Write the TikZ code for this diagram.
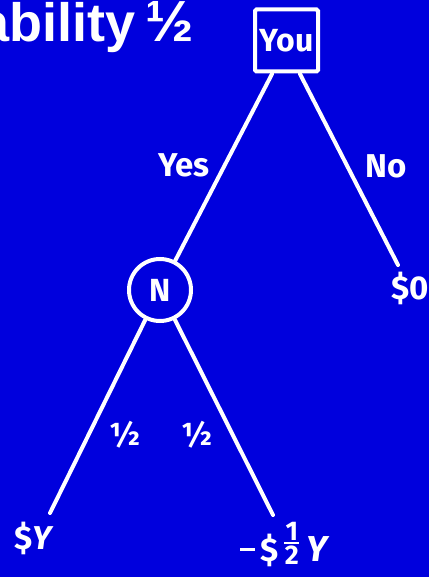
\documentclass[tikz,border=0pt]{standalone}
\usepackage{fontspec}
\setmainfont{Fira Sans}
\newfontfamily\titlefont{Liberation Sans}
\definecolor{bgblue}{RGB}{0,0,221}
\tikzset{
  lbl/.style={text=white, font=\bfseries\fontsize{33}{36}\selectfont, inner sep=0pt},
  halflbl/.style={text=white, font=\bfseries\fontsize{32}{34}\selectfont, inner sep=0pt},
  edge/.style={draw=white, line width=4pt, line cap=round},
  decbox/.style={draw=white, line width=4pt, rounded corners=1.5pt, minimum width=63pt, minimum height=62pt, inner sep=0pt, text=white, font=\bfseries\fontsize{32}{36}\selectfont},
  chance/.style={draw=white, circle, line width=4pt, minimum size=62pt, inner sep=0pt, text=white, font=\bfseries\fontsize{32}{36}\selectfont}
}
\newcommand\halfstack{\raisebox{9pt}{\fontsize{27}{27}\selectfont\begin{tabular}{@{}c@{}}\raisebox{-2pt}{1}\\[-21pt]\rule{15pt}{2pt}\\[-7pt]2\end{tabular}}}
\newcommand\longminus{\rule[0.3em]{15pt}{3.2pt}}
\begin{document}
\begin{tikzpicture}[x=1pt,y=-1pt]
\fill[bgblue] (0,0) rectangle (429,577);
\useasboundingbox (0,0) rectangle (429,577);
\node[anchor=base west, text=white, inner sep=0pt, font=\titlefont\bfseries\fontsize{54}{60}\selectfont] (title) at (-21,42) {ability\hspace{10pt}{\fontsize{58}{62}\selectfont ½}};
\node[decbox] (you) at (286.5,40.5) {You};
\node[chance] (n) at (160,290) {N};
\coordinate (ysl) at (272,74);
\coordinate (ysr) at (300,74);
\coordinate (zero) at (398,265);
\coordinate (ly) at (50,513);
\coordinate (ry) at (273,515);
\draw[edge] (ysl) -- (n);
\draw[edge] (ysr) -- (zero);
\draw[edge] (n) -- (ly);
\draw[edge] (n) -- (ry);
\node[lbl] (yes) at (184,165) {Yes};
\node[lbl] (no) at (386,166) {No};
\node[lbl, anchor=west] (z) at (391,288) {\$0};
\node[halflbl] (h1) at (125,435) {½};
\node[halflbl] (h2) at (197,435) {½};
\node[lbl] (sy) at (34,538) {\$\textit{Y}};
\node[lbl, anchor=base] (my) at (285,561) {\longminus\,\$\,\halfstack\hspace{7pt}{\fontsize{36}{38}\selectfont\textit{Y}}};
\end{tikzpicture}
\end{document}
